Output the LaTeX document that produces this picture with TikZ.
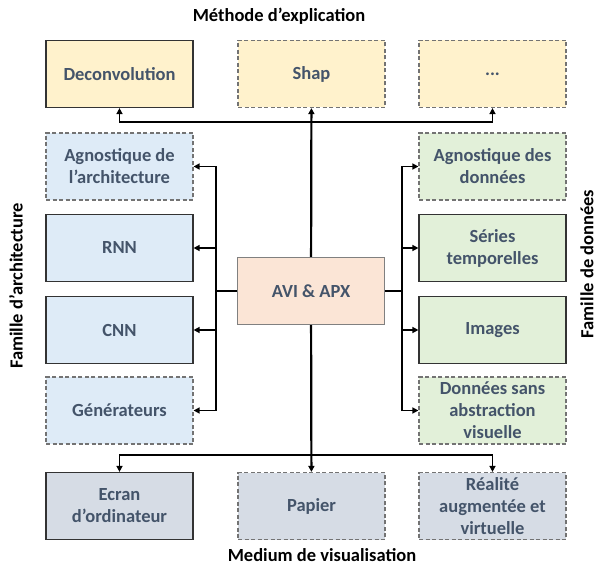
\documentclass[tikz,border=0pt]{standalone}
\usepackage{fontspec}
\setmainfont{Carlito}
\usetikzlibrary{arrows.meta}
\definecolor{txtgray}{HTML}{44546A}
\definecolor{methfill}{HTML}{FFF2CC}
\definecolor{archfill}{HTML}{DEEBF7}
\definecolor{datafill}{HTML}{E2F0D9}
\definecolor{avifill}{HTML}{FBE5D6}
\definecolor{medfill}{HTML}{D6DCE5}
\begin{document}
\begin{tikzpicture}[x=1pt,y=-1pt,
  box/.style={minimum width=147pt,minimum height=67pt,inner sep=0pt,align=center,
    font=\fontsize{18.5}{22}\selectfont\bfseries,text=txtgray,line width=1.2pt},
  plainbox/.style={box,draw=black!80},
  dashbox/.style={box,draw=black!55,dash pattern=on 4pt off 2.5pt},
  title/.style={inner sep=0pt,font=\fontsize{18.5}{22}\selectfont\bfseries},
  trunk/.style={line width=2.2pt},
  link/.style={line width=1.5pt,-{Triangle[length=6pt,width=6pt]}}]
  \useasboundingbox (0,0) rectangle (598,567);
  % centre
  \node[box,draw=black!50,fill=avifill] (avi) at (311,291) {AVI \& APX};
  % methodes
  \node[title] (tmeth) at (279,16) {Méthode d’explication};
  \node[plainbox,fill=methfill] (deconv) at (119.5,74) {Deconvolution};
  \node[dashbox,fill=methfill] (shap) at (311.5,74) {Shap};
  \node[dashbox,fill=methfill] (dots) at (492.5,74) {...};
  % architectures
  \node[title,rotate=90] (tarch) at (16,286) {Famille d’architecture};
  \node[dashbox,fill=archfill] (agarch) at (119.5,166.5) {Agnostique de\\l’architecture};
  \node[plainbox,fill=archfill] (rnn) at (119.5,248) {RNN};
  \node[plainbox,fill=archfill] (cnn) at (119.5,330) {CNN};
  \node[dashbox,fill=archfill] (gen) at (119.5,410.5) {Générateurs};
  % donnees
  \node[title,rotate=90] (tdata) at (587,264) {Famille de données};
  \node[dashbox,fill=datafill] (agdata) at (492.5,166.5) {Agnostique des\\données};
  \node[plainbox,fill=datafill] (series) at (492.5,248) {Séries\\temporelles};
  \node[plainbox,fill=datafill] (img) at (492.5,330) {Images};
  \node[dashbox,fill=datafill] (sans) at (492.5,410.5) {Données sans\\abstraction\\visuelle};
  % medium
  \node[title] (tmed) at (322,555) {Medium de visualisation};
  \node[plainbox,fill=medfill] (ecran) at (119.5,506) {Ecran\\d’ordinateur};
  \node[dashbox,fill=medfill] (papier) at (311.5,506) {Papier};
  \node[dashbox,fill=medfill] (real) at (492.5,506) {Réalité\\augmentée et\\virtuelle};
  % connecteurs
  \coordinate (top) at (311.5,122);
  \coordinate (lft) at (216,291);
  \coordinate (rgt) at (402,291);
  \coordinate (bot) at (311.5,455);
  \draw[link,line width=2.2pt] (avi) -- (shap);
  \draw[link] (top) -| (deconv);
  \draw[link] (top) -| (dots);
  \draw[trunk] (avi) -- (lft);
  \draw[trunk] (avi) -- (rgt);
  \foreach \n in {agarch,rnn,cnn,gen}
    \draw[link] (lft) |- (\n);
  \foreach \n in {agdata,series,img,sans}
    \draw[link] (rgt) |- (\n);
  \draw[link,line width=2.2pt] (avi) -- (papier);
  \draw[link] (bot) -| (ecran);
  \draw[link] (bot) -| (real);
\end{tikzpicture}
\end{document}
